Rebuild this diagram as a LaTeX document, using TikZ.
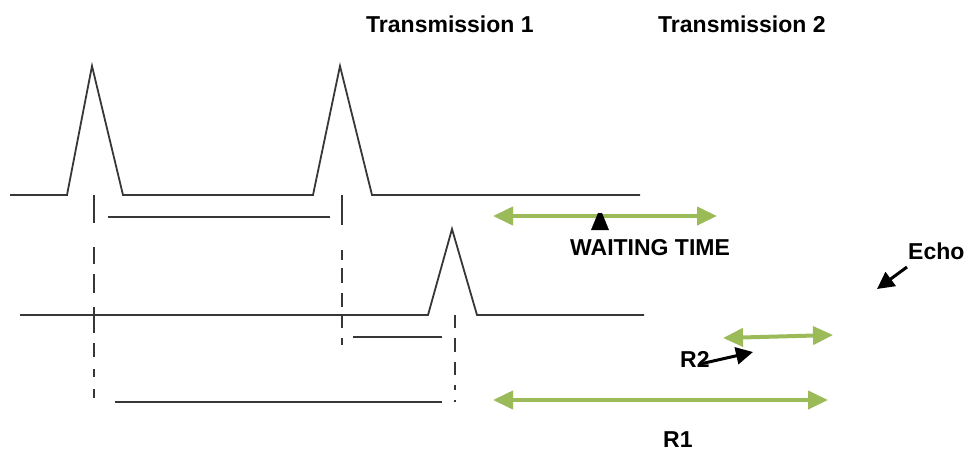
\documentclass[tikz,border=0pt]{standalone}
\usepackage{fontspec}
\setmainfont{Liberation Sans}
\usetikzlibrary{arrows.meta}
\definecolor{spancol}{RGB}{155,187,89}
\definecolor{ink}{RGB}{55,55,55}
\begin{document}
\begin{tikzpicture}[x=1pt,y=-1pt,
  signal/.style={line width=1.8pt, draw=ink, line join=miter},
  guide/.style={line width=1.8pt, draw=ink},
  interval/.style={line width=1.8pt, draw=ink},
  span/.style={line width=4pt, draw=spancol,
    {Triangle[length=20pt,width=18pt]}-{Triangle[length=20pt,width=18pt]}},
  pointer/.style={line width=3pt, draw=black, -{Triangle[length=17pt,width=17pt]}},
  label/.style={font=\bfseries\fontsize{23}{27}\selectfont, inner sep=0pt, anchor=base west}]
\useasboundingbox (0,0) rectangle (968,453);

% transmitted pulses
\draw[signal] (10,195) -- (67,195) -- (92,66) -- (123,195) -- (313,195)
  -- (340,66) -- (372,195) -- (640,195);
% received echo
\draw[signal] (20,315) -- (428,315) -- (452,229) -- (477,315) -- (644,315);

% time marks
\draw[guide, dash pattern=on 28pt off 24pt on 17pt off 10pt on 19pt off 14pt
  on 26pt off 10pt on 14pt off 12pt on 8pt off 12pt on 9pt off 10pt]
  (94,195) -- (94,398);
\draw[guide, dash pattern=on 30pt off 25pt on 10pt off 8pt on 15pt off 10pt
  on 14pt off 8pt on 13pt off 10pt on 7pt off 10pt]
  (342,195) -- (342,345);
\draw[guide, dash pattern=on 13pt off 10pt on 14pt off 10pt on 13pt off 10pt
  on 5pt off 10pt on 2pt off 10pt]
  (455,315) -- (455,403);

% measured intervals
\draw[interval] (108,217) -- (330,217);
\draw[interval] (353,337) -- (442,337);
\draw[interval] (115,402) -- (442,402);

% range spans
\coordinate (w1) at (493,216); \coordinate (w2) at (717,216);
\coordinate (r2a) at (723,338); \coordinate (r2b) at (833,335);
\coordinate (r1a) at (493,400); \coordinate (r1b) at (828,400);
\draw[span] (w1) -- (w2);
\draw[span] (r2a) -- (r2b);
\draw[span] (r1a) -- (r1b);

% marker under the waiting span
\fill[black] (598,213) -- (602,213) -- (609,230) -- (591,230) -- cycle;

% labels
\node[label] (t1) at (366,32) {Transmission 1};
\node[label] (t2) at (658,32) {Transmission 2};
\node[label] (wait) at (570,255) {WAITING TIME};
\node[label] (echo) at (908,259) {Echo};
\node[label] (r2) at (680,367) {R2};
\node[label] (r1) at (663,447) {R1};

% pointers
\coordinate (echotail) at (907,267);
\coordinate (echotip) at (877,289);
\draw[pointer] (echotail) -- (echotip);
\coordinate (r2from) at (700,364);
\coordinate (r2tip) at (753,352);
\draw[pointer] (r2from) -- (r2tip);
\end{tikzpicture}
\end{document}
